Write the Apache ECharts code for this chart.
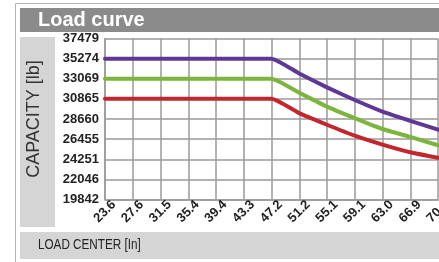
<!DOCTYPE html>
<html>
<head>
    <meta charset="utf-8">
    <script src="https://cdn.jsdelivr.net/npm/echarts@6/dist/echarts.min.js"></script>
    <style>
        html, body { margin: 0; padding: 0; background: #fff; }
    </style>
</head>
<body>
    <div id="main" style="width: 439px;height:262px;"></div>
    <script type="text/javascript">

    // load center, inches
    var categories = ['23.6', '27.6', '31.5', '35.4', '39.4', '43.3', '47.2', '51.2', '55.1', '59.1', '63.0', '66.9', '70.9'];
    // capacity tick labels, lb
    var yTicks = ['19842', '22046', '24251', '26455', '28660', '30865', '33069', '35274', '37479'];

    var purple = [35274, 35274, 35274, 35274, 35274, 35274, 35274, 33645, 32125, 30745, 29475, 28465, 27487];
    var green  = [33069, 33069, 33069, 33069, 33069, 33069, 33069, 31538, 30018, 28758, 27563, 26695, 25782];
    var red    = [30865, 30865, 30865, 30865, 30865, 30865, 30865, 29301, 28030, 26836, 25859, 25022, 24414];

    var step = 2204.625; // 1000 kg in lb
    var font = '"Liberation Sans", Arial, sans-serif';

    var myChart = echarts.init(document.getElementById('main'));

    function line(name, data, color) {
        return {
            name: name,
            type: 'line',
            data: data,
            symbol: 'none',
            smooth: 0.15,
            lineStyle: {width: 4, color: color, cap: 'round'},
            z: 3
        };
    }

    myChart.setOption({
        backgroundColor: '#fff',
        animation: false,
        grid: {
            left: 105,
            right: 1,
            top: 38.5,
            bottom: 62.5,
            outerBoundsMode: 'none'
        },
        xAxis: {
            type: 'category',
            data: categories,
            boundaryGap: false,
            axisLine: {lineStyle: {color: '#9a9a9a', width: 1.5}},
            axisTick: {show: false},
            splitLine: {show: true, lineStyle: {color: '#9a9a9a', width: 1.5}},
            axisLabel: {
                interval: 0,
                rotate: 45,
                align: 'center',
                verticalAlign: 'middle',
                margin: 12,
                color: '#222',
                fontSize: 13,
                fontWeight: 'bold',
                fontFamily: font
            }
        },
        yAxis: {
            type: 'value',
            min: step * 9,
            max: step * 17,
            interval: step,
            name: 'CAPACITY [lb]',
            nameLocation: 'middle',
            nameRotate: 90,
            nameGap: 62,
            nameTextStyle: {color: '#333', fontSize: 18, fontFamily: font},
            axisLine: {show: true, lineStyle: {color: '#9a9a9a', width: 1.5}},
            axisTick: {show: false},
            splitLine: {lineStyle: {color: '#9a9a9a', width: 1.5}},
            axisLabel: {
                margin: 6,
                color: '#222',
                fontSize: 13,
                fontWeight: 'bold',
                fontFamily: font,
                formatter: function (v) {
                    return yTicks[Math.round(v / step) - 9];
                }
            }
        },
        series: [
            line('purple', purple, '#5f3896'),
            line('green', green, '#7db43e'),
            line('red', red, '#c0272e')
        ],
        graphic: [
            // outer frame
            {type: 'line', shape: {x1: 15.5, y1: 3.5, x2: 439, y2: 3.5}, style: {stroke: '#b5b5b5', lineWidth: 1}, z: -10},
            {type: 'line', shape: {x1: 15.5, y1: 3.5, x2: 15.5, y2: 262}, style: {stroke: '#b5b5b5', lineWidth: 1}, z: -10},
            // title bar
            {type: 'rect', shape: {x: 20, y: 8, width: 419, height: 24}, style: {fill: '#8b8b8b'}, z: -10},
            {type: 'text', x: 38, y: 10, style: {text: 'Load curve', fill: '#fff', font: 'bold 20px ' + font}, z: 10},
            // left panel
            {type: 'rect', shape: {x: 20, y: 37, width: 35, height: 190}, style: {fill: '#d5d5d5'}, z: -10},
            // bottom bar
            {type: 'rect', shape: {x: 20, y: 232, width: 419, height: 27}, style: {fill: '#d5d5d5'}, z: -10},
            {type: 'text', x: 38, y: 237, scaleX: 0.78, style: {text: 'LOAD CENTER [In]', fill: '#222', font: '15px ' + font}, z: 10}
        ]
    });
    </script>
</body>
</html>
